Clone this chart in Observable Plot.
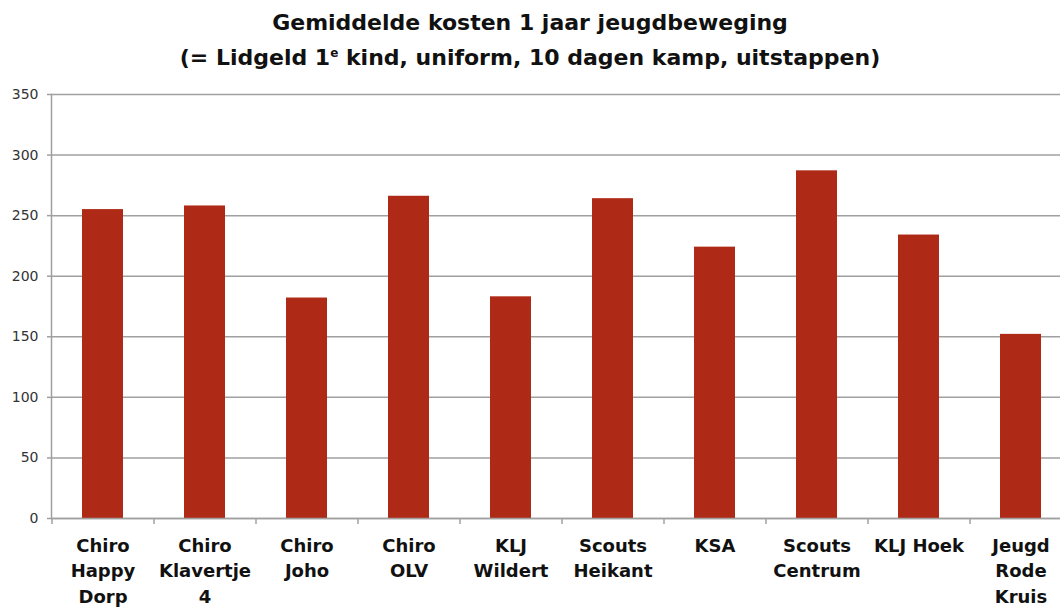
<!DOCTYPE html>
<html>
<head>
<meta charset="utf-8">
<script src="https://cdn.jsdelivr.net/npm/d3@7"></script>
<script src="https://cdn.jsdelivr.net/npm/@observablehq/plot@0.6"></script>
<style>
  html, body { margin: 0; padding: 0; background: #fff; overflow: hidden; }
  #title { height: 80px; box-sizing: border-box; padding-top: 5px; text-align: center;
    font-family: "DejaVu Sans", sans-serif; font-weight: bold; font-size: 22px;
    line-height: 35px; color: #111; }
  #title sup { font-size: 12px; vertical-align: top; position: relative; top: -4px; }
  #chart svg { display: block; overflow: visible; }
</style>
</head>
<body>
<div id="title">Gemiddelde kosten 1 jaar jeugdbeweging<br>(= Lidgeld 1<sup>e</sup> kind, uniform, 10 dagen kamp, uitstappen)</div>
<div id="chart"></div>
<script>
const categories = ["Chiro\nHappy\nDorp", "Chiro\nKlavertje\n4", "Chiro\nJoho", "Chiro\nOLV", "KLJ\nWildert", "Scouts\nHeikant", "KSA", "Scouts\nCentrum", "KLJ Hoek", "Jeugd\nRode\nKruis"];
const values = [255, 258, 182, 266, 183, 264, 224, 287, 234, 152];
const yTicks = [0, 50, 100, 150, 200, 250, 300, 350];

const data = categories.map((c, i) => ({category: c, value: values[i]}));
const xRange = [51, 1071];
const step = (xRange[1] - xRange[0]) / categories.length;
const barColor = "#AF2A16";
const gridColor = "#a0a0a0";

const chart = Plot.plot({
  width: 1060,
  height: 527,
  marginTop: 14,
  marginBottom: 89,
  marginLeft: 51,
  marginRight: 0,
  style: {background: "#fff"},
  x: {domain: categories, range: xRange, paddingInner: 0.6, paddingOuter: 0.3},
  y: {domain: [0, 350]},
  marks: [
    Plot.gridY(yTicks, {stroke: gridColor, strokeOpacity: 1, strokeWidth: 1.5}),
    Plot.barY(data, {x: "category", y: "value", fill: barColor}),
    Plot.ruleY([0], {stroke: gridColor, strokeWidth: 1.5}),
    Plot.frame({anchor: "left", stroke: gridColor, strokeWidth: 1.5}),
    Plot.axisX({tickSize: 6, tickFormat: () => "", dx: -step / 2, stroke: gridColor, strokeWidth: 1.5, strokeOpacity: 1, label: null}),
    Plot.axisY(yTicks, {tickSize: 4, tickPadding: 9, stroke: gridColor, strokeWidth: 1.5, strokeOpacity: 1,
      fontSize: 14, fill: "#333", fontFamily: "'DejaVu Sans', sans-serif", label: null}),
    Plot.axisX({tickSize: 0, tickPadding: 15, fontSize: 18, fontWeight: "bold", fill: "#111",
      fontFamily: "'DejaVu Sans', sans-serif", lineHeight: 1.42, label: null})
  ]
});
document.getElementById("chart").appendChild(chart);
</script>
</body>
</html>
